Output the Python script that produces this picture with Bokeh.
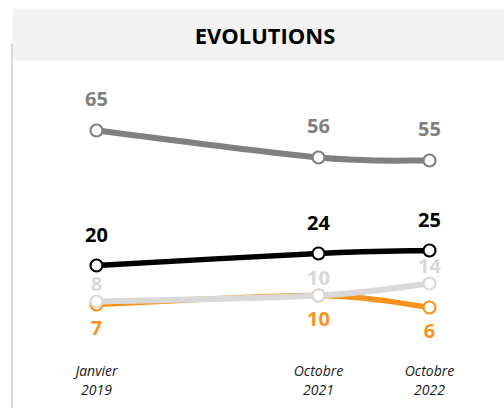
from bokeh.plotting import figure
from bokeh.models import Range1d, BoxAnnotation
from bokeh.core.properties import value
from bokeh.embed import file_html
from bokeh.resources import INLINE

# ---------------- data ----------------
title_text = "EVOLUTIONS"
categories = ["Janvier\n2019", "", "Octobre\n2021", "Octobre\n2022"]
dark_gray_values = [65, None, 56, 55]
black_values = [20, None, 24, 25]
orange_values = [7, None, 10, 6]
light_gray_values = [8, None, 10, 14]

# ---------------- styles ----------------
DARK_GRAY = "#808080"
BLACK = "#000000"
ORANGE = "#f7931e"
LIGHT_GRAY = "#d9d9d9"
FONT = "Open Sans"

W, H = 504, 408
PX_PER_CAT = 111.0
X0_PX = 96.0
PX_PER_UNIT = 3.0
ZERO_PX = 325.0


def dx(px):
    return (px - X0_PX) / PX_PER_CAT


def dy(py):
    return (ZERO_PX - py) / PX_PER_UNIT


p = figure(width=W, height=H, output_backend="svg", toolbar_location=None,
           x_range=Range1d(dx(0), dx(W)), y_range=Range1d(dy(H), dy(0)),
           min_border=0, outline_line_color=None)
p.xaxis.visible = False
p.yaxis.visible = False
p.grid.visible = False
p.background_fill_color = "white"
p.border_fill_color = "white"

# title band
band = BoxAnnotation(left=dx(12), right=dx(W + 20), top=dy(8), bottom=dy(60),
                     fill_color="#f2f2f2", fill_alpha=1.0, line_alpha=0.0,
                     level="underlay")
p.add_layout(band)
p.segment(x0=[dx(11.5)], y0=[dy(43)], x1=[dx(11.5)], y1=[dy(H + 10)],
          line_color=LIGHT_GRAY, line_width=2)

p.text(x=[dx(264.5)], y=[dy(34)], text=[title_text], text_align="center",
       text_baseline="middle", text_font=value(FONT), text_font_style="bold",
       text_font_size="22px", text_color="#000000")


def smooth_series(vals, color, width, label_offset):
    pts = [(i, v) for i, v in enumerate(vals) if v is not None]
    n = len(pts)
    x0s, y0s, x1s, y1s, cx0, cy0, cx1, cy1 = [], [], [], [], [], [], [], []
    for k in range(n - 1):
        p0 = pts[k - 1] if k > 0 else pts[k]
        p1 = pts[k]
        p2 = pts[k + 1]
        p3 = pts[k + 2] if k + 2 < n else pts[k + 1]
        x0s.append(p1[0]); y0s.append(p1[1])
        x1s.append(p2[0]); y1s.append(p2[1])
        cx0.append(p1[0] + (p2[0] - p0[0]) / 6.0)
        cy0.append(p1[1] + (p2[1] - p0[1]) / 6.0)
        cx1.append(p2[0] - (p3[0] - p1[0]) / 6.0)
        cy1.append(p2[1] - (p3[1] - p1[1]) / 6.0)
    p.bezier(x0=x0s, y0=y0s, x1=x1s, y1=y1s, cx0=cx0, cy0=cy0, cx1=cx1, cy1=cy1,
             line_color=color, line_width=width, line_cap="round")
    xs = [q[0] for q in pts]
    ys = [q[1] for q in pts]
    p.scatter(x=xs, y=ys, size=12, marker="circle", fill_color="white",
              line_color=color, line_width=2.2)
    p.text(x=xs, y=ys, text=[str(v) for v in ys], y_offset=label_offset,
           text_align="center", text_baseline="middle", text_font=value(FONT),
           text_font_style="bold", text_font_size="20px", text_color=color)


smooth_series(dark_gray_values, DARK_GRAY, 6, -32)
smooth_series(black_values, BLACK, 5.5, -31)
smooth_series(orange_values, ORANGE, 5.5, 23)
smooth_series(light_gray_values, LIGHT_GRAY, 6, -18)

cat_idx = [i for i, c in enumerate(categories) if c]
line1 = [c.split("\n")[0] for c in categories if c]
line2 = [c.split("\n")[1] for c in categories if c]
for txt, ypx in ((line1, 370), (line2, 389)):
    p.text(x=cat_idx, y=[dy(ypx)] * len(cat_idx), text=txt,
           text_align="center", text_baseline="middle", text_font=value(FONT),
           text_font_style="italic", text_font_size="14px", text_color="#1a1a1a")

open("out.html", "w").write(file_html(p, INLINE))
